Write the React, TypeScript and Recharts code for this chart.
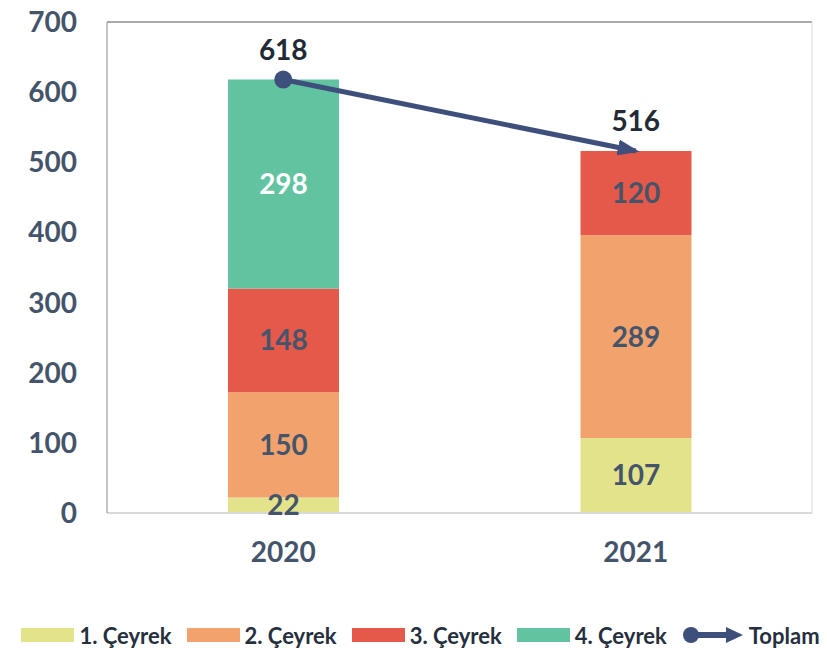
import React from 'react';
import { ComposedChart, Bar, Line, XAxis, YAxis, LabelList, Legend } from 'recharts';

const categories = ['2020', '2021'];
const q1Values = [22, 107];
const q2Values = [150, 289];
const q3Values = [148, 120];
const q4Values: (number | null)[] = [298, null];
const totalValues = [618, 516];
const yTicks = [0, 100, 200, 300, 400, 500, 600, 700];

const seriesNames = ['1. Çeyrek', '2. Çeyrek', '3. Çeyrek', '4. Çeyrek', 'Toplam'];
const colors = ['#E3E38B', '#F2A36D', '#E5594A', '#62C3A1'];
const lineColor = '#3F4F7C';
const axisText = '#44546A';
const FONT = 'Lato, "Open Sans", sans-serif';

const data = categories.map((c, i) => ({
  year: c,
  q1: q1Values[i],
  q2: q2Values[i],
  q3: q3Values[i],
  q4: q4Values[i],
  total: totalValues[i],
}));

const labelStyle = { fill: axisText, fontSize: 28, fontWeight: 700, fontFamily: FONT };

const renderDot = (props: any) => {
  const { cx, cy, index } = props;
  if (index !== 0) return <g key={`d${index}`} />;
  return <circle key={`d${index}`} cx={cx} cy={cy} r={9} fill={lineColor} />;
};

const LegendContent = () => (
  <div
    style={{
      display: 'flex',
      justifyContent: 'center',
      alignItems: 'center',
      height: 26,
      paddingLeft: 28,
      boxSizing: 'border-box',
      fontFamily: FONT,
      fontWeight: 700,
      fontSize: 22,
      color: '#262F3D',
      whiteSpace: 'nowrap',
    }}
  >
    {seriesNames.slice(0, 4).map((n, i) => (
      <div key={n} style={{ display: 'flex', alignItems: 'center', marginRight: 15 }}>
        <div style={{ width: 53, height: 14, background: colors[i], marginRight: 5 }} />
        <span>{n}</span>
      </div>
    ))}
    <div style={{ display: 'flex', alignItems: 'center' }}>
      <svg width={62} height={22} style={{ marginRight: 5 }}>
        <line x1={9} y1={11} x2={46} y2={11} stroke={lineColor} strokeWidth={6} />
        <circle cx={9} cy={11} r={8} fill={lineColor} />
        <polygon points="44,3 61,11 44,19" fill={lineColor} />
      </svg>
      <span>{seriesNames[4]}</span>
    </div>
  </div>
);

export default function App() {
  return (
    <div style={{ position: 'absolute', left: 0, top: 0, width: 827, height: 656, background: '#fff' }}>
      <svg width={0} height={0} style={{ position: 'absolute' }}>
        <defs>
          <marker
            id="arrowHead"
            viewBox="0 0 22 16"
            markerWidth={22}
            markerHeight={16}
            refX={18}
            refY={8}
            orient="auto"
            markerUnits="userSpaceOnUse"
          >
            <path d="M0,0 L22,8 L0,16 z" fill={lineColor} />
          </marker>
        </defs>
      </svg>
      <ComposedChart width={827} height={656} data={data} margin={{ top: 21, right: 14, left: 0, bottom: 8 }}>
        <XAxis
          dataKey="year"
          tickLine={false}
          tickSize={0}
          tickMargin={29}
          height={109}
          axisLine={{ stroke: '#d9d9d9', strokeWidth: 2 }}
          tick={{ fill: axisText, fontSize: 28, fontWeight: 700, fontFamily: FONT }}
        />
        <XAxis
          xAxisId="top"
          dataKey="year"
          orientation="top"
          height={1}
          tick={false}
          tickLine={false}
          axisLine={{ stroke: '#8c8c8c', strokeWidth: 1.5 }}
        />
        <YAxis
          domain={[0, 700]}
          ticks={yTicks}
          width={107}
          tickLine={false}
          tickSize={0}
          tickMargin={30}
          axisLine={{ stroke: '#8c8c8c' }}
          tick={{ fill: axisText, fontSize: 28, fontWeight: 700, fontFamily: FONT }}
        />
        <YAxis
          yAxisId="right"
          orientation="right"
          width={1}
          domain={[0, 700]}
          tick={false}
          tickLine={false}
          axisLine={{ stroke: '#d9d9d9' }}
        />
        <Bar dataKey="q1" name={seriesNames[0]} stackId="a" fill={colors[0]} barSize={111} isAnimationActive={false}>
          <LabelList dataKey="q1" position="center" {...labelStyle} />
        </Bar>
        <Bar dataKey="q2" name={seriesNames[1]} stackId="a" fill={colors[1]} barSize={111} isAnimationActive={false}>
          <LabelList dataKey="q2" position="center" {...labelStyle} />
        </Bar>
        <Bar dataKey="q3" name={seriesNames[2]} stackId="a" fill={colors[2]} barSize={111} isAnimationActive={false}>
          <LabelList dataKey="q3" position="center" {...labelStyle} />
        </Bar>
        <Bar dataKey="q4" name={seriesNames[3]} stackId="a" fill={colors[3]} barSize={111} isAnimationActive={false}>
          <LabelList dataKey="q4" position="center" {...labelStyle} fill="#ffffff" />
        </Bar>
        <Line
          dataKey="total"
          name={seriesNames[4]}
          stroke={lineColor}
          strokeWidth={5}
          dot={renderDot}
          activeDot={false}
          markerEnd="url(#arrowHead)"
          isAnimationActive={false}
        >
          <LabelList dataKey="total" position="top" offset={20} {...labelStyle} fill="#222A35" />
        </Line>
        <Legend verticalAlign="bottom" content={() => <LegendContent />} />
      </ComposedChart>
    </div>
  );
}
